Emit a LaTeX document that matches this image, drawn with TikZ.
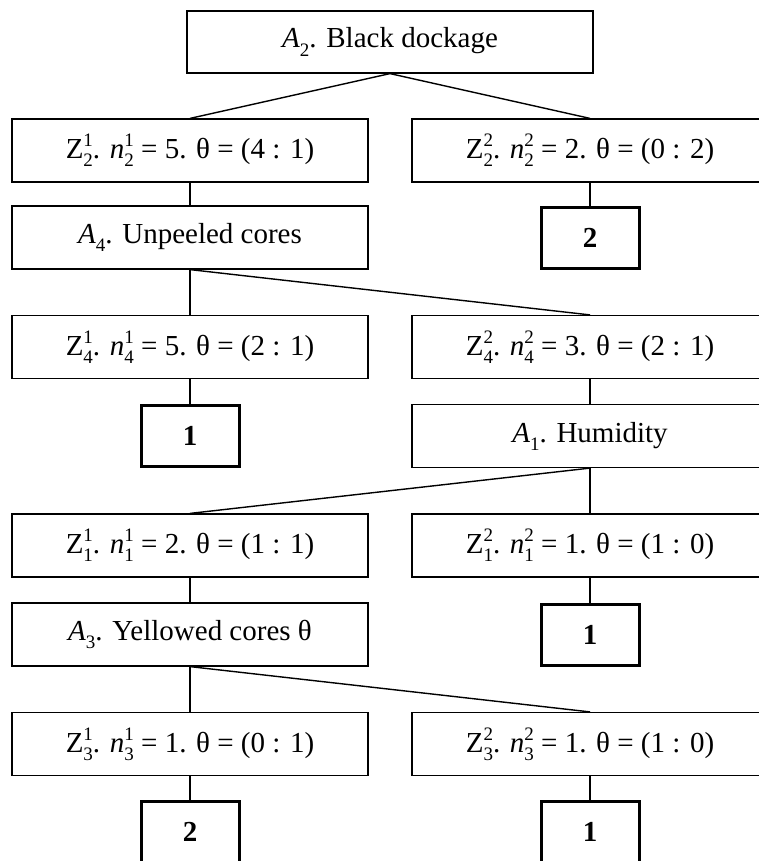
\documentclass[tikz,border=0pt]{standalone}
\usepackage{fontspec}
\setmainfont{Liberation Serif}

% stacked super- and subscript in text
\newcommand{\supsub}[2]{\makebox[0pt][l]{\raisebox{0.42em}{\fontsize{19}{19}\selectfont #1}}\raisebox{-0.28em}{\fontsize{19}{19}\selectfont #2}}
\newcommand{\subonly}[1]{\raisebox{-0.28em}{\fontsize{19}{19}\selectfont #1}}

\begin{document}
\begin{tikzpicture}[
    x=1pt, y=-1pt,
    attr/.style={rectangle, draw, line width=1.2pt, minimum width=356pt, minimum height=63pt, inner sep=0pt, font=\fontsize{29}{34}\selectfont},
    rootbox/.style={attr, minimum width=406pt, minimum height=62pt},
    leaf/.style={rectangle, draw, line width=3pt, minimum width=98pt, minimum height=61pt, inner sep=0pt, font=\fontsize{29}{34}\selectfont\bfseries},
    link/.style={line width=1.4pt}
]
\useasboundingbox (0,0) rectangle (758,861);

% level 1
\node[rootbox] (black) at (390,42) {\textit{A}\subonly{2}. Black dockage};
\node[attr] (z21) at (190,150.5) {Z\supsub{1}{2}. \textit{n}\supsub{1}{2} = 5. θ = (4 : 1)};
\node[attr] (z22) at (590,150.5) {Z\supsub{2}{2}. \textit{n}\supsub{2}{2} = 2. θ = (0 : 2)};

% level 2
\node[attr] (unpeeled) at (190,237.5) {\textit{A}\subonly{4}. Unpeeled cores};
\node[leaf] (leafa) at (590,237.5) {2};
\node[attr] (z41) at (190,347) {Z\supsub{1}{4}. \textit{n}\supsub{1}{4} = 5. θ = (2 : 1)};
\node[attr] (z42) at (590,347) {Z\supsub{2}{4}. \textit{n}\supsub{2}{4} = 3. θ = (2 : 1)};

% level 3
\node[leaf] (leafb) at (190,436) {1};
\node[attr] (humidity) at (590,436) {\textit{A}\subonly{1}. Humidity};
\node[attr] (z11) at (190,545.5) {Z\supsub{1}{1}. \textit{n}\supsub{1}{1} = 2. θ = (1 : 1)};
\node[attr] (z12) at (590,545.5) {Z\supsub{2}{1}. \textit{n}\supsub{2}{1} = 1. θ = (1 : 0)};

% level 4
\node[attr] (yellowed) at (190,634.5) {\textit{A}\subonly{3}. Yellowed cores θ};
\node[leaf] (leafc) at (590,634.5) {1};
\node[attr] (z31) at (190,744) {Z\supsub{1}{3}. \textit{n}\supsub{1}{3} = 1. θ = (0 : 1)};
\node[attr] (z32) at (590,744) {Z\supsub{2}{3}. \textit{n}\supsub{2}{3} = 1. θ = (1 : 0)};
\node[leaf] (leafd) at (190,832) {2};
\node[leaf] (leafe) at (590,832) {1};

\draw[link] (black.south) -- (z21.north);
\draw[link] (black.south) -- (z22.north);
\draw[link] (z21) -- (unpeeled);
\draw[link] (z22) -- (leafa);
\draw[link] (unpeeled.south) -- (z41.north);
\draw[link] (unpeeled.south) -- (z42.north);
\draw[link] (z41) -- (leafb);
\draw[link] (z42) -- (humidity);
\draw[link] (humidity.south) -- (z11.north);
\draw[link] (humidity.south) -- (z12.north);
\draw[link] (z11) -- (yellowed);
\draw[link] (z12) -- (leafc);
\draw[link] (yellowed.south) -- (z31.north);
\draw[link] (yellowed.south) -- (z32.north);
\draw[link] (z31) -- (leafd);
\draw[link] (z32) -- (leafe);

\end{tikzpicture}
\end{document}
